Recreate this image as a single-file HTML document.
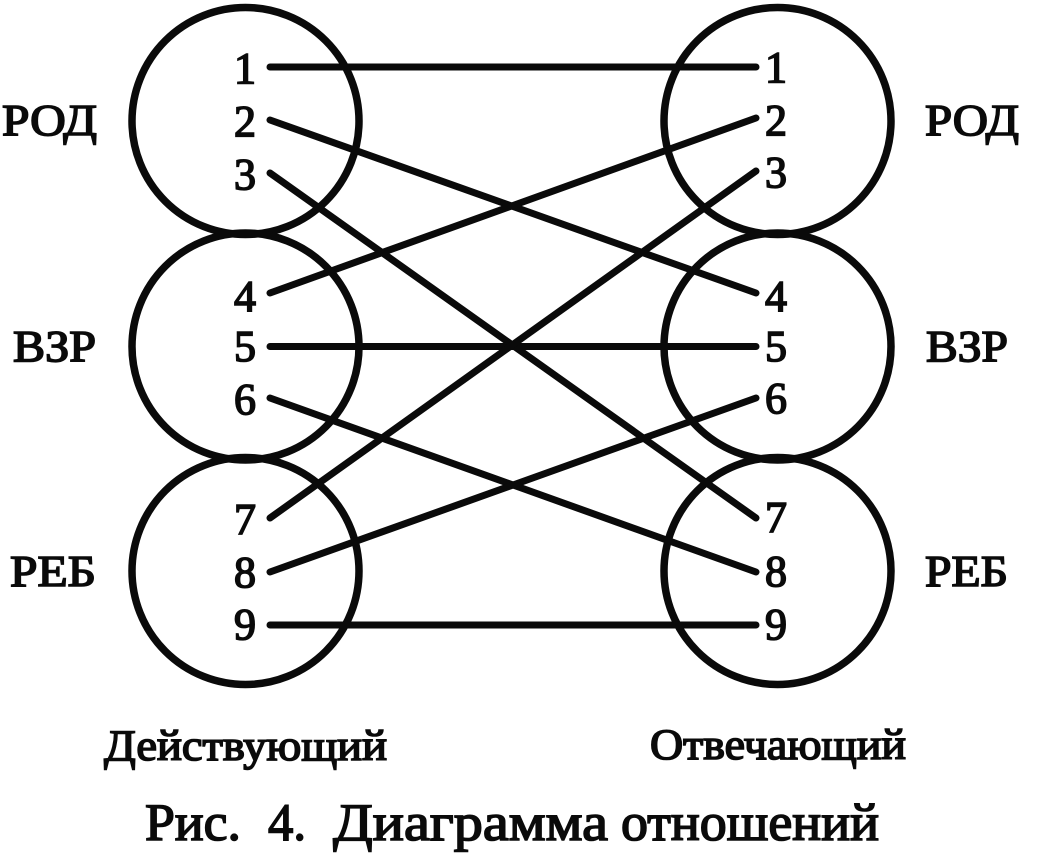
<!DOCTYPE html>
<html>
<head>
<meta charset="utf-8">
<style>
html,body{margin:0;padding:0;background:#fff;width:1051px;height:853px;overflow:hidden}
svg{display:block}
text{font-family:"Liberation Serif",serif;fill:#0a0a0a;stroke:#0a0a0a;stroke-width:1.6;font-weight:normal}
</style>
</head>
<body>
<svg width="1051" height="853" viewBox="0 0 1051 853" xmlns="http://www.w3.org/2000/svg">
<g fill="none" stroke="#0a0a0a" stroke-width="7.5">
<circle cx="245.5" cy="121" r="113.5"/>
<circle cx="245.5" cy="346.5" r="113.5"/>
<circle cx="245.5" cy="571" r="113.5"/>
<circle cx="777.5" cy="121" r="113.5"/>
<circle cx="777.5" cy="346.5" r="113.5"/>
<circle cx="777.5" cy="571" r="113.5"/>
</g>
<g stroke="#0a0a0a" stroke-width="7" stroke-linecap="round" fill="none">
<line x1="270" y1="67" x2="756" y2="67"/>
<line x1="270" y1="120" x2="756" y2="293"/>
<line x1="270" y1="173" x2="756" y2="518"/>
<line x1="270" y1="293" x2="756" y2="118"/>
<line x1="270" y1="346.5" x2="756" y2="346.5"/>
<line x1="270" y1="398" x2="756" y2="572"/>
<line x1="270" y1="518" x2="756" y2="171"/>
<line x1="270" y1="572" x2="756" y2="398"/>
<line x1="270" y1="625" x2="756" y2="625"/>
</g>
<g font-size="44" text-anchor="middle" style="stroke-width:1.3">
<text x="245" y="83">1</text><text x="245" y="136">2</text><text x="245" y="189">3</text>
<text x="245" y="311">4</text><text x="245" y="361">5</text><text x="245" y="414">6</text>
<text x="245" y="534">7</text><text x="245" y="587">8</text><text x="245" y="639">9</text>
<text x="776" y="82">1</text><text x="776" y="135">2</text><text x="776" y="187">3</text>
<text x="776" y="311">4</text><text x="776" y="361">5</text><text x="776" y="413">6</text>
<text x="776" y="532">7</text><text x="776" y="586">8</text><text x="776" y="639">9</text>
</g>
<g font-size="44">
<text x="2" y="135" textLength="95" lengthAdjust="spacingAndGlyphs">РОД</text>
<text x="13" y="361" textLength="83" lengthAdjust="spacingAndGlyphs">ВЗР</text>
<text x="10" y="586" textLength="86" lengthAdjust="spacingAndGlyphs">РЕБ</text>
<text x="925" y="135" textLength="94" lengthAdjust="spacingAndGlyphs">РОД</text>
<text x="926" y="361" textLength="82" lengthAdjust="spacingAndGlyphs">ВЗР</text>
<text x="925" y="586" textLength="83" lengthAdjust="spacingAndGlyphs">РЕБ</text>
</g>
<text x="104" y="760" font-size="43" textLength="283" lengthAdjust="spacingAndGlyphs">Действующий</text>
<text x="650" y="759" font-size="43" textLength="256" lengthAdjust="spacingAndGlyphs">Отвечающий</text>
<g font-size="53" style="stroke-width:1.8">
<text x="145" y="840" textLength="96" lengthAdjust="spacingAndGlyphs">Рис.</text>
<text x="268" y="840" textLength="38" lengthAdjust="spacingAndGlyphs">4.</text>
<text x="333" y="840" textLength="275" lengthAdjust="spacingAndGlyphs">Диаграмма</text>
<text x="621" y="840" textLength="258" lengthAdjust="spacingAndGlyphs">отношений</text>
</g>
</svg>
</body>
</html>
